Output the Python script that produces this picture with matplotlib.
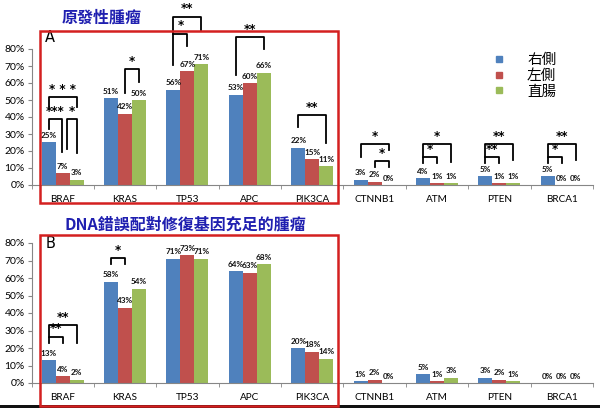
import matplotlib
matplotlib.use("Agg")
import matplotlib.pyplot as plt
from matplotlib.patches import Rectangle
from matplotlib.lines import Line2D
import numpy as np

genes = ["BRAF", "KRAS", "TP53", "APC", "PIK3CA", "CTNNB1", "ATM", "PTEN", "BRCA1"]
series = ["右側", "左側", "直腸"]
colors = ["#4F81BD", "#C0504D", "#9BBB59"]

primary_right = [25, 51, 56, 53, 22, 3, 4, 5, 5]
primary_left = [7, 42, 67, 60, 15, 2, 1, 1, 0]
primary_rectum = [3, 50, 71, 66, 11, 0, 1, 1, 0]

mmr_right = [13, 58, 71, 64, 20, 1, 5, 3, 0]
mmr_left = [4, 43, 73, 63, 18, 2, 1, 2, 0]
mmr_rectum = [2, 54, 71, 68, 14, 0, 3, 1, 0]

yticks = [0, 10, 20, 30, 40, 50, 60, 70, 80]

title_top = "原發性腫瘤"
title_bottom = "DNA錯誤配對修復基因充足的腫瘤"

# significance brackets: (gene index, bar i, bar j, top, left leg end, right leg end, label)
sig_top = [
    (0, 0, 0.95, 38.8, 33, 19.4, "***"),
    (0, 1.3, 2, 38.8, 21, 19.0, "*"),
    (0, 0, 2, 51.8, 46, 46, "* * *"),
    (1, 1, 2, 68, 54, 60.6, "*"),
    (2, 0, 1, 89, 70.6, 82, "*"),
    (2, 0, 2, 99, 89, 91, "**"),
    (3, 0, 2, 87, 64.7, 80, "**"),
    (4, 0, 2, 41, 34.3, 24.7, "**"),
    (5, 0, 2, 24, 16.5, 20.6, "*"),
    (5, 1, 2, 14, 10.6, 10.6, "*"),
    (6, 0, 2, 24, 16.5, 13.5, "*"),
    (6, 0, 1, 16.5, 13, 13, "*"),
    (7, 0, 2, 24, 16.5, 14.7, "**"),
    (7, 0, 1, 16.5, 13, 13, "**"),
    (8, 0, 2, 24, 16.5, 14.7, "**"),
    (8, 0, 1, 16.5, 13, 13, "*"),
]
sig_bottom = [
    (0, 0, 1, 26.5, 23, 23, "**"),
    (0, 0, 2, 33, 26.5, 23, "**"),
    (1, 0, 1, 71.2, 68, 68, "*"),
]

W, H = 600, 408
fig = plt.figure(figsize=(6, 4.08), dpi=100)
fig.patch.set_facecolor("white")

cjk = ["Noto Sans CJK TC", "DejaVu Sans"]
lat = ["Lato", "DejaVu Sans"]

bw = 14 / 62.4
x = np.arange(len(genes))


def px_axes(left, top, right, bottom):
    return [left / W, 1 - bottom / H, (right - left) / W, (bottom - top) / H]


def draw_panel(ax, vals, sigs):
    for k, (v, c) in enumerate(zip(vals, colors)):
        pos = x + (k - 1) * bw
        ax.bar(pos, v, width=bw, color=c, edgecolor="none", label=series[k], zorder=2)
        for xi, vi in zip(pos, v):
            ax.annotate(f"{vi}%", (xi, vi), xytext=(0, 2.5), textcoords="offset points",
                        ha="center", va="bottom", fontsize=5.9, fontweight="bold",
                        family=lat, color="#111111", annotation_clip=False)
    ax.set_xlim(-0.5, len(genes) - 0.5)
    ax.set_ylim(0, 80)
    ax.set_yticks(yticks)
    ax.set_yticklabels([f"{t}%" for t in yticks], fontsize=7.5, family=lat)
    ax.set_xticks(x)
    ax.set_xticklabels(genes, fontsize=7.2, family=lat)
    ax.set_xticks(np.arange(-0.5, len(genes), 1.0), minor=True)
    ax.tick_params(axis="x", which="major", length=0, pad=7)
    ax.tick_params(axis="x", which="minor", length=3, direction="out", color="#868686")
    ax.tick_params(axis="y", length=3, direction="out", color="#868686", pad=2)
    for s in ["top", "right"]:
        ax.spines[s].set_visible(False)
    for s in ["left", "bottom"]:
        ax.spines[s].set_color("#868686")
        ax.spines[s].set_linewidth(0.8)
    ax.set_facecolor("none")
    for (g, i, j, top, lb, rb, lab) in sigs:
        xl = g + (i - 1) * bw
        xr = g + (j - 1) * bw
        ax.add_line(Line2D([xl, xl, xr, xr], [lb, top, top, rb], color="black",
                           lw=1.3, clip_on=False, zorder=3))
        ax.annotate(lab, ((xl + xr) / 2, top), xytext=(0, 1), textcoords="offset points",
                    ha="center", va="bottom", fontsize=8.5, fontweight="bold",
                    family=["DejaVu Sans"], annotation_clip=False)


ax1 = fig.add_axes(px_axes(31.5, 49, 593, 185))
draw_panel(ax1, [primary_right, primary_left, primary_rectum], sig_top)
ax2 = fig.add_axes(px_axes(31.5, 243, 593, 383))
draw_panel(ax2, [mmr_right, mmr_left, mmr_rectum], sig_bottom)

# titles
fig.text(62 / W, 1 - 18 / H, title_top, fontsize=11.5, color="#1F1FB0", family=cjk,
         fontweight="bold", ha="left", va="center")
fig.text(65 / W, 1 - 225 / H, title_bottom, fontsize=11.5, color="#1F1FB0", family=cjk,
         fontweight="bold", ha="left", va="center")

# panel letters
fig.text(45 / W, 1 - 38 / H, "A", fontsize=10.5, family=["DejaVu Sans"], ha="left", va="center")
fig.text(46 / W, 1 - 244 / H, "B", fontsize=10.5, family=["DejaVu Sans"], ha="left", va="center")

# legend
handles = [Line2D([], [], marker="s", linestyle="none", markersize=4.5,
                  markerfacecolor=c, markeredgecolor=c) for c in colors]
fig.legend(handles, series, loc="upper left", bbox_to_anchor=(492 / W, 1 - 53 / H),
           frameon=False, prop={"family": cjk, "size": 10.5}, handlelength=1.0,
           handletextpad=1.4, labelspacing=0.12, borderpad=0, borderaxespad=0)

# red boxes
for (l, t, r, b) in [(40, 31, 338, 203), (40, 235, 338, 405.5)]:
    fig.patches.append(Rectangle((l / W, 1 - b / H), (r - l) / W, (b - t) / H,
                                 transform=fig.transFigure, fill=False,
                                 edgecolor="#D42020", linewidth=1.8, zorder=5))
# dark bottom band
fig.patches.append(Rectangle((0, 0), 1, 3.5 / H, transform=fig.transFigure,
                             facecolor="#111111", edgecolor="none", zorder=4))

fig.savefig("out.png", dpi=100)
